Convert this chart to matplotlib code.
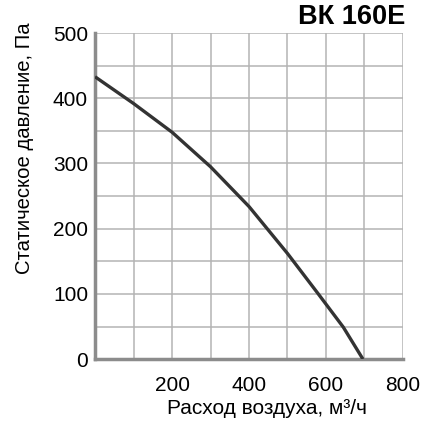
import numpy as np
import matplotlib.pyplot as plt

plt.rcParams['font.family'] = ['Liberation Sans', 'DejaVu Sans']

# curve
flow = [0, 100, 200, 300, 400, 500, 580, 645, 696]
pressure = [433, 392, 348, 295, 234, 162, 100, 49, 0]

xticks = [200, 400, 600, 800]
yticks = [0, 100, 200, 300, 400, 500]

fig = plt.figure(figsize=(4.38, 4.24), dpi=100)
ax = fig.add_axes([0.217, 0.153, 0.703, 0.769])

ax.plot(flow, pressure, color='#333333', lw=2.4, solid_capstyle='butt', zorder=3)

ax.set_xlim(0, 800)
ax.set_ylim(0, 500)
ax.set_xticks(xticks)
ax.set_yticks(yticks)
ax.set_xticks(np.arange(0, 801, 100), minor=True)
ax.set_yticks(np.arange(0, 501, 50), minor=True)
ax.grid(which='both', color='#b4b4b4', lw=1.1, zorder=1)
ax.tick_params(which='both', length=0, labelsize=15, colors='black')
ax.tick_params(axis='x', pad=12)
ax.tick_params(axis='y', pad=5)

for s in ['top', 'right']:
    ax.spines[s].set_visible(False)
for s in ['left', 'bottom']:
    ax.spines[s].set_color('#8c8c8c')
    ax.spines[s].set_linewidth(2.5)

fig.text(0.610, 0.037, 'Расход воздуха, м³/ч', fontsize=15, ha='center', va='center')
fig.text(0.055, 0.651, 'Статическое давление, Па', fontsize=14.6,
         rotation=90, ha='center', va='center')
fig.text(0.925, 0.93, 'ВК 160Е', fontsize=19.5, fontweight='bold', ha='right', va='bottom')

fig.savefig('out.png', dpi=100)
